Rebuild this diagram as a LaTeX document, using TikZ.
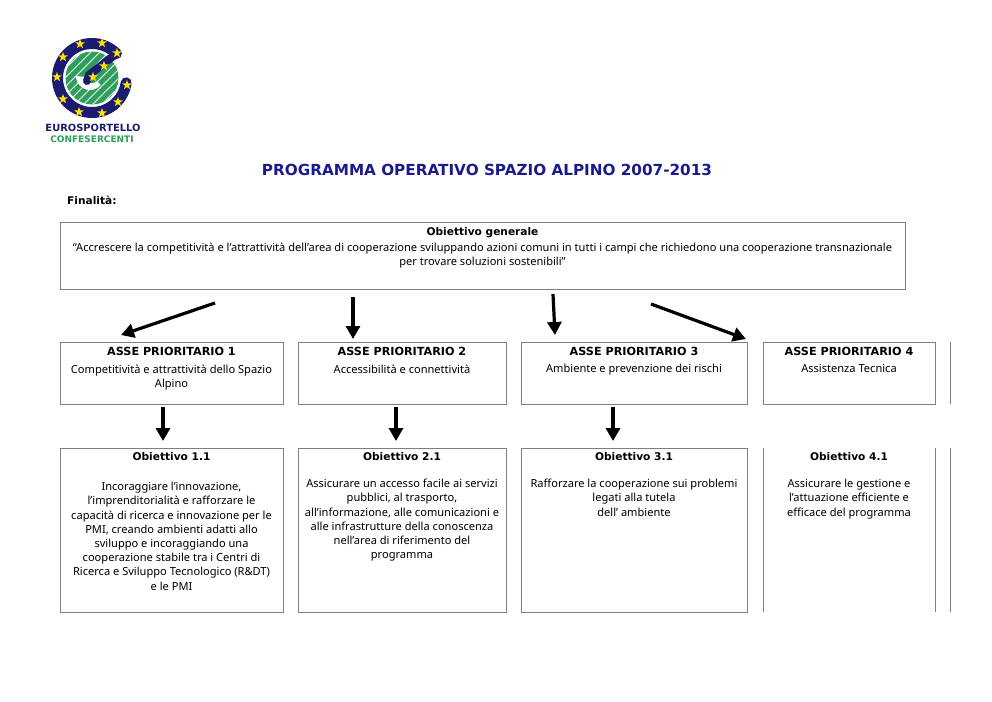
\documentclass[tikz,border=0pt]{standalone}
\usepackage{fontspec}
\setmainfont{Noto Sans}[BoldFont={DejaVu Sans Bold}]
\usetikzlibrary{arrows.meta, positioning, shapes.geometric}
\definecolor{logonavy}{HTML}{1B1B6F}
\definecolor{logogreen}{HTML}{2E9E5B}
\definecolor{titleblue}{HTML}{1A1A8C}
\definecolor{boxgray}{HTML}{7F7F7F}

\begin{document}
\begin{tikzpicture}[
    x=1pt, y=1pt,
    font=\fontsize{11.08}{14.2}\selectfont,
    arr/.style={-{Triangle[length=13pt, width=14pt]}, line width=3.2pt},
    box/.style={
        rectangle, draw=boxgray, line width=0.9pt, inner sep=0pt, outer sep=0pt
    },
    noedge/.style={rectangle, inner sep=0pt, outer sep=0pt},
    genbox/.style={box, minimum width=845pt, minimum height=67pt},
    txt/.style={align=center, inner sep=0pt, anchor=north},
    head/.style={txt, font=\fontsize{10.6}{14.2}\selectfont\bfseries},
    assehead/.style={head, font=\fontsize{11.2}{14.2}\selectfont\bfseries},
    edge/.style={boxgray, line width=0.9pt},
    logostar/.style={star, star points=5, star point ratio=2.4, fill=yellow!85!orange,
        inner sep=0pt, minimum size=10pt},
]
    \useasboundingbox (0,0) rectangle (992,-701);

    % Logo
    \begin{scope}[shift={(92,-78)}]
        \fill[logogreen] (0,0) circle (26.5);
        \begin{scope}
            \clip (0,0) circle (26.5);
            \foreach \s in {-36,-27,...,36}
                \draw[white, line width=1pt] (\s-30,-30) -- (\s+30,30);
        \end{scope}
        \fill[white] (-16,2) arc (180:320:14) -- (5,-3) arc (320:180:6) -- cycle;
        \draw[logonavy, line width=11pt, line cap=round] (24.4,24.4) arc (45:352:34.5);
        \draw[logonavy, line width=8pt, line cap=round] (24,24) -- (-3,3) -- (-5,-3);
    \end{scope}
    \foreach \xs/\ys [count=\i] in {80/44,102/43,117/53,63/57,104/66,93/77,57/77,127/85,63/99,118/102,79/112,102/113}
        \node[logostar] (star\i) at (\xs,-\ys) {};
    \node[font=\fontsize{9.9}{13}\selectfont\bfseries, text=logonavy, inner sep=0pt] (logoa) at (93,-128) {EUROSPORTELLO};
    \node[font=\fontsize{9}{12}\selectfont\bfseries, text=logogreen, inner sep=0pt] (logob) at (92,-139) {CONFESERCENTI};

    % Titolo
    \node[font=\fontsize{15.24}{18}\selectfont\bfseries, text=titleblue, inner sep=0pt] (titolo) at (487,-170) {PROGRAMMA OPERATIVO SPAZIO ALPINO 2007-2013};
    \node[head, anchor=west] (finalita) at (67,-200) {Finalità:};

    % Obiettivo generale
    \node[genbox] (gen) at (482.5,-255.5) {};
    \node[head, below=5pt of gen.north] (gentit) {Obiettivo generale};
    \node[txt, below=5pt of gentit] (gentxt) {“Accrescere la competitività e l’attrattività dell’area di cooperazione sviluppando azioni comuni in tutti i campi che richiedono una cooperazione transnazionale\\per trovare soluzioni sostenibili”};

    % Assi prioritari
    \node[box, minimum width=223pt, minimum height=62pt, below right=53pt and 0pt of gen.south west] (asse1) {};
    \node[box, minimum width=208pt, minimum height=62pt, right=15pt of asse1] (asse2) {};
    \node[box, minimum width=226pt, minimum height=62pt, right=15pt of asse2] (asse3) {};
    \node[box, minimum width=172pt, minimum height=62pt, right=16pt of asse3] (asse4) {};
    \coordinate[right=15pt of asse4.north east] (stra);
    \coordinate[right=15pt of asse4.south east] (strb);
    \draw[edge] (stra) -- (strb);

    \node[assehead, below=5pt of asse1.north] (at1) {ASSE PRIORITARIO 1};
    \node[txt, below=8.5pt of at1] {Competitività e attrattività dello Spazio\\Alpino};
    \node[assehead, below=5pt of asse2.north] (at2) {ASSE PRIORITARIO 2};
    \node[txt, below=8.5pt of at2] {Accessibilità e connettività};
    \node[assehead, below=5pt of asse3.north] (at3) {ASSE PRIORITARIO 3};
    \node[txt, below=8.5pt of at3] {Ambiente e prevenzione dei rischi};
    \node[assehead, below=5pt of asse4.north] (at4) {ASSE PRIORITARIO 4};
    \node[txt, below=8.5pt of at4] {Assistenza Tecnica};

    % Obiettivi
    \node[box, minimum width=223pt, minimum height=164pt, below=44pt of asse1] (obi1) {};
    \node[box, minimum width=208pt, minimum height=164pt, below=44pt of asse2] (obi2) {};
    \node[box, minimum width=226pt, minimum height=164pt, below=44pt of asse3] (obi3) {};
    \node[noedge, minimum width=172pt, minimum height=164pt, below=44pt of asse4] (obi4) {};
    \draw[edge] (obi4.north west) -- (obi4.south west);
    \draw[edge] (obi4.north east) -- (obi4.south east);
    \draw[edge] (stra |- obi4.north) -- (stra |- obi4.south);

    \node[head, below=4pt of obi1.north] (ot1) {Obiettivo 1.1};
    \node[txt, below=34pt of obi1.north] {Incoraggiare l’innovazione,\\l’imprenditorialità e rafforzare le\\capacità di ricerca e innovazione per le\\PMI, creando ambienti adatti allo\\sviluppo e incoraggiando una\\cooperazione stabile tra i Centri di\\Ricerca e Sviluppo Tecnologico (R\&DT)\\e le PMI};
    \node[head, below=4pt of obi2.north] (ot2) {Obiettivo 2.1};
    \node[txt, below=31pt of obi2.north] {Assicurare un accesso facile ai servizi\\pubblici, al trasporto,\\all’informazione, alle comunicazioni e\\alle infrastrutture della conoscenza\\nell’area di riferimento del\\programma};
    \node[head, below=4pt of obi3.north] (ot3) {Obiettivo 3.1};
    \node[txt, below=31pt of obi3.north] {Rafforzare la cooperazione sui problemi\\legati alla tutela\\dell’ ambiente};
    \node[head, below=4pt of obi4.north] (ot4) {Obiettivo 4.1};
    \node[txt, below=31pt of obi4.north] {Assicurare le gestione e\\l’attuazione efficiente e\\efficace del programma};

    % Frecce
    \draw[arr] ([xshift=-267.5pt, yshift=-14pt] gen.south) -- ([xshift=-50.5pt, yshift=7pt] asse1.north);
    \draw[arr] ([xshift=-129.5pt, yshift=-8pt] gen.south) -- ([xshift=-49pt, yshift=3pt] asse2.north);
    \draw[arr] ([xshift=70.5pt, yshift=-5pt] gen.south) -- ([xshift=-79pt, yshift=7pt] asse3.north);
    \draw[arr] ([xshift=168.5pt, yshift=-15pt] gen.south) -- ([xshift=-103pt, yshift=3pt] asse4.north);
    \draw[arr] ([xshift=-8.5pt, yshift=-3pt] asse1.south) -- ([xshift=-8.5pt, yshift=7pt] obi1.north);
    \draw[arr] ([xshift=-6pt, yshift=-3pt] asse2.south) -- ([xshift=-6pt, yshift=7pt] obi2.north);
    \draw[arr] ([xshift=-21pt, yshift=-3pt] asse3.south) -- ([xshift=-21pt, yshift=7pt] obi3.north);
\end{tikzpicture}
\end{document}
